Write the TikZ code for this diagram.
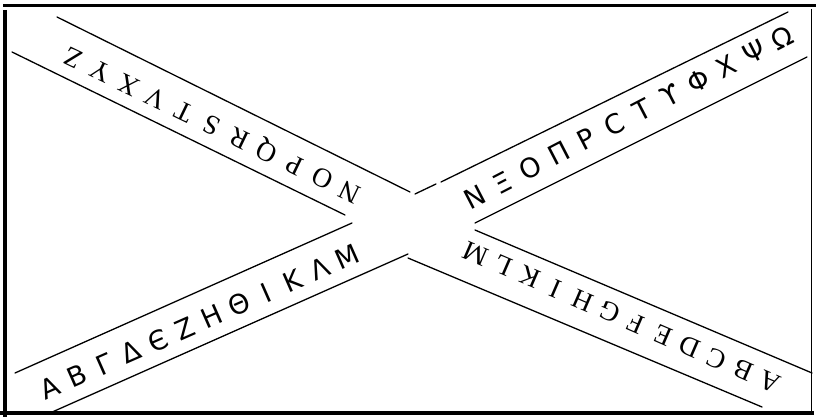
\documentclass[tikz,border=0pt]{standalone}
\usepackage{fontspec}
\newfontfamily\grk{DejaVu Sans}
\newfontfamily\lat{Liberation Serif}
\newcommand\grkfnt{\grk\fontsize{27pt}{30pt}\selectfont}
\newcommand\latfnt{\lat\fontsize{27.5pt}{30pt}\selectfont}
\usetikzlibrary{calc}
\begin{document}
\begin{tikzpicture}[x=1pt,y=-1pt,
  band/.style={line width=1.3pt, line cap=round},
  frame/.style={line width=3.5pt},
  grkl/.style={font=\grkfnt, inner sep=0pt, text height=19.5pt, text depth=0pt},
  latl/.style={font=\latfnt, inner sep=0pt, text height=18pt, text depth=0pt}]
\useasboundingbox (0,0) rectangle (816,419);
% frame
\draw[frame] (3,5.5) -- (816,5.5);
\draw[frame] (5,10) -- (5,417);
\draw[frame] (0,413) -- (814,413);
\draw[line width=1.5pt] (811.5,9) -- (811.5,411);
% upper-left band
\draw[band] (57,17) -- (410,192);
\draw[band] (12,52) -- (345,215);
% upper-right band
\draw[band] (415,194) -- (436,184);
\draw[band] (441,182) -- (788,12);
\draw[band] (475,223) -- (807,57);
% lower-right band
\draw[band] (475,230) -- (812,373);
\draw[band] (408,258) -- (762,407);
% lower-left band
\draw[band] (15,373) -- (352,223);
\draw[band] (50,413) -- (408,254);
% Greek letters
\foreach \c [count=\i from 0] in {Α,Β,Γ,Δ,Є,Ζ,Η,Θ,Ι,Κ,Λ,Μ}
  \node[grkl, rotate=23.8] (ga\i) at ($(50,388)!\i/11!(347,257)$) {\c};
\foreach \c [count=\i from 0] in {Ν,Ξ,Ο,Π,Ρ,Ϲ,Τ,ϒ,Φ,Χ,Ψ,Ω}
  \node[grkl, rotate=27.4] (gb\i) at ($(475,197)!\i/11!(782,38)$) {\c};
% Latin letters (upside down)
\foreach \c [count=\i from 0] in {A,B,C,D,E,F,G,H,I,K,L,M}
  \node[latl, rotate=156.6] (la\i) at ($(770,382)!\i/11!(476,254)$) {\c};
\foreach \c [count=\i from 0] in {N,O,P,Q,R,S,T,V,X,Y,Z}
  \node[latl, rotate=154.2] (lb\i) at ($(350,192)!\i/10!(73,58)$) {\c};
\end{tikzpicture}
\end{document}
